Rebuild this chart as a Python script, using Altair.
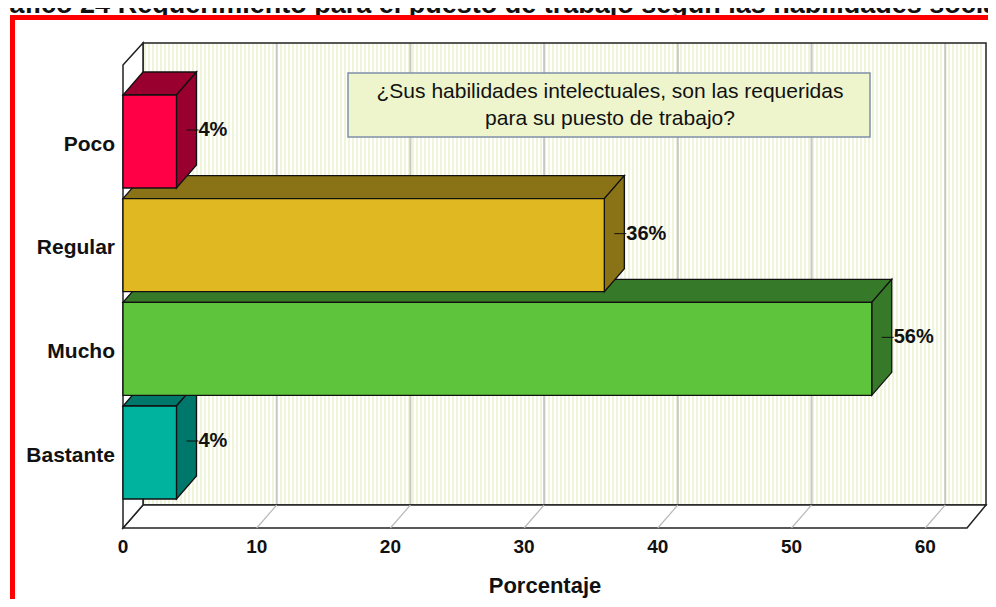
import altair as alt
import pandas as pd

# ---------------- data ----------------
categories = ["Poco", "Regular", "Mucho", "Bastante"]
percentages = [4, 36, 56, 4]
label_texts = ["4%", "36%", "56%", "4%"]
x_ticks = [0, 10, 20, 30, 40, 50, 60]
front_colors = ["#ff0046", "#e0b922", "#5ec43c", "#00b39f"]
shade_colors = ["#990030", "#8a7316", "#367a29", "#00776b"]
title_text = "Gráfico 24 Requerimiento para el puesto de trabajo según las habilidades sociales"
note_lines = ["¿Sus habilidades intelectuales, son las requeridas", "para su puesto de trabajo?"]
axis_title = "Porcentaje"

# ---------------- layout helpers ----------------
W, H = 980, 591
PX = 845 / 63.2          # pixels per percent
X0 = 115                 # chart px of 0 %
STEP = 103.67            # px between category centres
Y0 = 133.5               # chart px of first category centre
FONT = "Liberation Sans"


def p_of(cx):
    return (cx - X0) / PX


def i_of(cy):
    return (cy - Y0) / STEP


DX = 20 / PX
DY = 23 / STEP
HB = 46.5 / STEP

xs = alt.Scale(domain=[p_of(0), p_of(W)], nice=False, zero=False)
ys = alt.Scale(domain=[i_of(0), i_of(H)], nice=False, zero=False, reverse=True)


def X(f):
    return alt.X(f, type="quantitative", scale=xs, axis=None)


def Y(f):
    return alt.Y(f, type="quantitative", scale=ys, axis=None)


n = len(categories)
idx = list(range(n))

# back wall geometry (chart px)
BW_L, BW_R, BW_T, BW_B = 135, 978, 35, 497
FR_B, FR_T = 520, 57
FR_R = 959

# ---------------- frame ----------------
wall_df = pd.DataFrame([{"x": p_of(BW_L), "x2": p_of(BW_R), "y": i_of(BW_T), "y2": i_of(BW_B)}])
wall_fill = alt.Chart(wall_df).mark_rect(fill="white").encode(
    x=X("x"), x2="x2", y=Y("y"), y2="y2")

stripe_x = [p_of(c) for c in range(BW_L + 2, BW_R - 1, 4)]
stripe_df = pd.DataFrame({"x": stripe_x, "y": i_of(BW_T), "y2": i_of(BW_B)})
stripes = alt.Chart(stripe_df).mark_rule(color="#f0f5da", strokeWidth=2).encode(
    x=X("x"), y=Y("y"), y2="y2")

grid_df = pd.DataFrame({"x": [t + DX for t in x_ticks[1:]], "y": i_of(BW_T), "y2": i_of(BW_B)})
grid = alt.Chart(grid_df).mark_rule(color="#c9c9c4", strokeWidth=2).encode(
    x=X("x"), y=Y("y"), y2="y2")

wall_outline = alt.Chart(wall_df).mark_rect(fillOpacity=0, stroke="#222222", strokeWidth=1.5).encode(
    x=X("x"), x2="x2", y=Y("y"), y2="y2")

floor_df = pd.DataFrame([
    {"y": i_of(FR_B), "x": p_of(X0), "x2": p_of(FR_R)},
    {"y": i_of(BW_B), "x": p_of(BW_L), "x2": p_of(BW_R)},
])
floor = alt.Chart(floor_df).mark_area(orient="horizontal", fill="white", stroke="#222222",
                                      strokeWidth=1.5).encode(y=Y("y"), x=X("x"), x2="x2")

fgrid_df = pd.DataFrame({"x": x_ticks[1:], "x2": [t + DX for t in x_ticks[1:]],
                         "y": i_of(FR_B), "y2": i_of(BW_B)})
floor_grid = alt.Chart(fgrid_df).mark_rule(color="#b8b8b8", strokeWidth=1.2).encode(
    x=X("x"), x2="x2", y=Y("y"), y2="y2")

lwall_df = pd.DataFrame([
    {"x": p_of(X0), "y": i_of(FR_T), "y2": i_of(FR_B)},
    {"x": p_of(BW_L), "y": i_of(BW_T), "y2": i_of(BW_B)},
])
left_wall = alt.Chart(lwall_df).mark_area(orient="vertical", fill="white", stroke="#222222",
                                          strokeWidth=1.5).encode(x=X("x"), y=Y("y"), y2="y2")

# ---------------- bars ----------------
top_rows, side_rows, front_rows = [], [], []
for k in idx:
    v = percentages[k]
    c = categories[k]
    top_rows += [
        {"cat": c, "y": k - HB, "x": 0, "x2": v, "col": shade_colors[k]},
        {"cat": c, "y": k - HB - DY, "x": DX, "x2": v + DX, "col": shade_colors[k]},
    ]
    side_rows += [
        {"cat": c, "x": v, "y": k - HB, "y2": k + HB, "col": shade_colors[k]},
        {"cat": c, "x": v + DX, "y": k - HB - DY, "y2": k + HB - DY, "col": shade_colors[k]},
    ]
    front_rows.append({"cat": c, "x": 0, "x2": v, "y": k - HB, "y2": k + HB, "col": front_colors[k]})

tops = alt.Chart(pd.DataFrame(top_rows)).mark_area(orient="horizontal", stroke="#111111",
                                                   strokeWidth=1.3).encode(
    y=Y("y"), x=X("x"), x2="x2", detail="cat:N", fill=alt.Fill("col:N", scale=None))
sides = alt.Chart(pd.DataFrame(side_rows)).mark_area(orient="vertical", stroke="#111111",
                                                     strokeWidth=1.3).encode(
    x=X("x"), y=Y("y"), y2="y2", detail="cat:N", fill=alt.Fill("col:N", scale=None))
fronts = alt.Chart(pd.DataFrame(front_rows)).mark_rect(stroke="#111111", strokeWidth=1.3).encode(
    x=X("x"), x2="x2", y=Y("y"), y2="y2", fill=alt.Fill("col:N", scale=None))

# ---------------- value labels ----------------
lab_df = pd.DataFrame({
    "x": [v + DX + 2 / PX for v in percentages],
    "xl": [v + DX / 2 for v in percentages],
    "y": [k - DY / 2 for k in idx],
    "t": label_texts,
})
leaders = alt.Chart(lab_df).mark_rule(color="#111111", strokeWidth=1).encode(
    x=X("xl"), x2="x", y=Y("y"))
val_labels = alt.Chart(lab_df).mark_text(align="left", baseline="middle", font=FONT,
                                         fontWeight="bold", fontSize=20, color="#111111").encode(
    x=X("x"), y=Y("y"), text="t:N")

cat_df = pd.DataFrame({"x": p_of(107), "y": idx, "t": categories})
cat_labels = alt.Chart(cat_df).mark_text(align="right", baseline="middle", dy=3, font=FONT,
                                         fontWeight="bold", fontSize=21, color="#111111").encode(
    x=X("x"), y=Y("y"), text="t:N")

tick_df = pd.DataFrame({"x": x_ticks, "y": i_of(539), "t": [str(t) for t in x_ticks]})
tick_labels = alt.Chart(tick_df).mark_text(align="center", baseline="middle", font=FONT,
                                           fontWeight="bold", fontSize=19, color="#111111").encode(
    x=X("x"), y=Y("y"), text="t:N")

axt_df = pd.DataFrame({"x": [p_of((X0 + FR_R) / 2)], "y": [i_of(585)], "t": [axis_title]})
axis_lab = alt.Chart(axt_df).mark_text(align="center", baseline="alphabetic", font=FONT,
                                       fontWeight="bold", fontSize=22, color="#111111").encode(
    x=X("x"), y=Y("y"), text="t:N")

# ---------------- note box ----------------
box_df = pd.DataFrame([{"x": p_of(340), "x2": p_of(862), "y": i_of(65), "y2": i_of(129)}])
box = alt.Chart(box_df).mark_rect(fill="#eef5cc", stroke="#7f8ea8", strokeWidth=1.5).encode(
    x=X("x"), x2="x2", y=Y("y"), y2="y2")
note_df = pd.DataFrame({"x": p_of(602), "y": [i_of(84), i_of(111)], "t": note_lines})
note = alt.Chart(note_df).mark_text(align="center", baseline="middle", font=FONT,
                                    fontSize=21, color="#111111").encode(
    x=X("x"), y=Y("y"), text="t:N")

# ---------------- title & red border ----------------
ttl_df = pd.DataFrame({"x": [p_of(499)], "y": [i_of(5)], "t": [title_text]})
ttl = alt.Chart(ttl_df).mark_text(align="center", baseline="alphabetic", font=FONT,
                                  fontWeight="bold", fontSize=27, color="#111111").encode(
    x=X("x"), y=Y("y"), text="t:N")

red_top_df = pd.DataFrame([{"x": p_of(2), "x2": p_of(W), "y": i_of(9.5)}])
red_top = alt.Chart(red_top_df).mark_rule(color="#ff0000", strokeWidth=5).encode(
    x=X("x"), x2="x2", y=Y("y"))
red_left_df = pd.DataFrame([{"x": p_of(4.5), "y": i_of(7), "y2": i_of(H)}])
red_left = alt.Chart(red_left_df).mark_rule(color="#ff0000", strokeWidth=5).encode(
    x=X("x"), y=Y("y"), y2="y2")

chart = alt.layer(
    wall_fill, stripes, grid, wall_outline, floor, floor_grid, left_wall,
    tops, sides, fronts, leaders, val_labels, cat_labels, tick_labels, axis_lab,
    box, note, ttl, red_top, red_left,
).properties(
    width=W, height=H, padding=0,
    autosize=alt.AutoSizeParams(type="none"),
).configure_view(stroke=None)

chart.save("out.html", embed_options={"renderer": "svg", "actions": False})
